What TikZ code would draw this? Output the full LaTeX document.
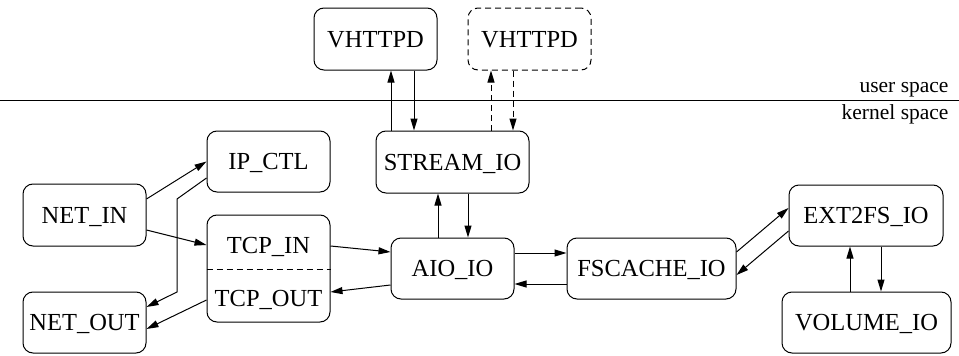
\documentclass[tikz,border=0pt]{standalone}
\usepackage{fontspec}
\setmainfont{Liberation Serif}
\usetikzlibrary{arrows.meta}

\begin{document}
\begin{tikzpicture}[x=1pt, y=-1pt,
  every path/.style={line width=1pt},
  box/.style={draw, rounded corners=10pt, inner sep=0pt,
    font=\fontsize{24.5}{28}\selectfont, text height=16pt, text depth=0pt},
  dbox/.style={box, dash pattern=on 6pt off 4pt},
  link/.style={-{Triangle[length=12pt, width=7pt]}},
  dlink/.style={link, dash pattern=on 6pt off 4pt},
  tag/.style={font=\fontsize{21.5}{24}\selectfont, inner sep=0pt}
]
\useasboundingbox (0,0) rectangle (959,356);

% user/kernel boundary
\coordinate (sepL) at (0,100);
\coordinate (sepR) at (959,100);
\draw (sepL) -- (sepR);
\node[tag, anchor=base east] (user) at (949,92.5) {user space};
\node[tag, anchor=base east] (kernel) at (949,119) {kernel space};

% user-space processes
\node[box,  minimum width=123pt, minimum height=62pt] (vh1) at (375.5,39) {VHTTPD};
\node[dbox, minimum width=123pt, minimum height=62pt] (vh2) at (529.5,39) {VHTTPD};

% kernel modules
\node[box, minimum width=153pt, minimum height=62pt] (stream) at (452.5,162) {STREAM\_IO};
\node[box, minimum width=123pt, minimum height=61pt] (ipctl) at (268.5,161.5) {IP\_CTL};
\node[box, minimum width=123pt, minimum height=62pt] (netin) at (84.5,215) {NET\_IN};
\node[box, minimum width=123pt, minimum height=61pt] (netout) at (84.5,322.5) {NET\_OUT};
\node[box, minimum width=123pt, minimum height=107pt] (tcp) at (268.5,268.5) {};
\node[font=\fontsize{24.5}{28}\selectfont, inner sep=0pt, anchor=base] (tcpin) at (268.5,253) {TCP\_IN};
\node[font=\fontsize{24.5}{28}\selectfont, inner sep=0pt, anchor=base] (tcpout) at (268.5,306.5) {TCP\_OUT};
\draw[dash pattern=on 6pt off 4pt] ([yshift=-0.5pt]tcp.west) -- ([yshift=-0.5pt]tcp.east);
\node[box, minimum width=123pt, minimum height=61pt] (aio) at (452.5,268.5) {AIO\_IO};
\node[box, minimum width=169pt, minimum height=61pt] (fscache) at (651.5,268.5) {FSCACHE\_IO};
\node[box, minimum width=154pt, minimum height=61pt] (ext2fs) at (866,215.5) {EXT2FS\_IO};
\node[box, minimum width=169pt, minimum height=61pt] (volume) at (866.5,322.5) {VOLUME\_IO};

% STREAM_IO <-> VHTTPD
\draw[link] ([xshift=-61.5pt]stream.north) -- ([xshift=15.5pt]vh1.south);
\draw[link] ([xshift=38.5pt]vh1.south) -- ([xshift=-38.5pt]stream.north);
\draw[dlink] ([xshift=38.5pt]stream.north) -- ([xshift=-38.5pt]vh2.south);
\draw[dlink] ([xshift=-16.5pt]vh2.south) -- ([xshift=60.5pt]stream.north);

% STREAM_IO <-> AIO_IO
\draw[link] ([xshift=-14.5pt]aio.north) -- ([xshift=-14.5pt]stream.south);
\draw[link] ([xshift=15.5pt]stream.south) -- ([xshift=15.5pt]aio.north);

% AIO_IO <-> FSCACHE_IO
\draw[link] ([yshift=15.5pt]aio.east) -- ([yshift=15.5pt]fscache.west);
\draw[link] ([yshift=-15.5pt]fscache.west) -- ([yshift=-15.5pt]aio.east);

% TCP <-> AIO_IO
\draw[link] ([yshift=22.5pt]tcp.east) -- ([yshift=16.5pt]aio.west);
\draw[link] ([yshift=-16.5pt]aio.west) -- ([yshift=-23.5pt]tcp.east);

% network side
\draw[link] ([yshift=16pt]netin.east) -- (ipctl.west);
\draw[link] ([yshift=-15pt]netin.east) -- ([yshift=23.5pt]tcp.west);
\coordinate (bendA) at (177,199);
\coordinate (bendB) at (177,292);
\draw[link] ([yshift=-16.5pt]ipctl.west) -- (bendA) -- (bendB) -- ([yshift=15.5pt]netout.east);
\draw[link] ([yshift=-31.5pt]tcp.west) -- ([yshift=-6.5pt]netout.east);

% FSCACHE_IO <-> EXT2FS_IO
\draw[link] ([yshift=16.5pt]fscache.east) -- ([yshift=7.5pt]ext2fs.west);
\draw[link] ([yshift=-15.5pt]ext2fs.west) -- ([yshift=-6.5pt]fscache.east);

% EXT2FS_IO <-> VOLUME_IO
\draw[link] ([xshift=-16.5pt]volume.north) -- ([xshift=-16pt]ext2fs.south);
\draw[link] ([xshift=15pt]ext2fs.south) -- ([xshift=14.5pt]volume.north);
\end{tikzpicture}
\end{document}
